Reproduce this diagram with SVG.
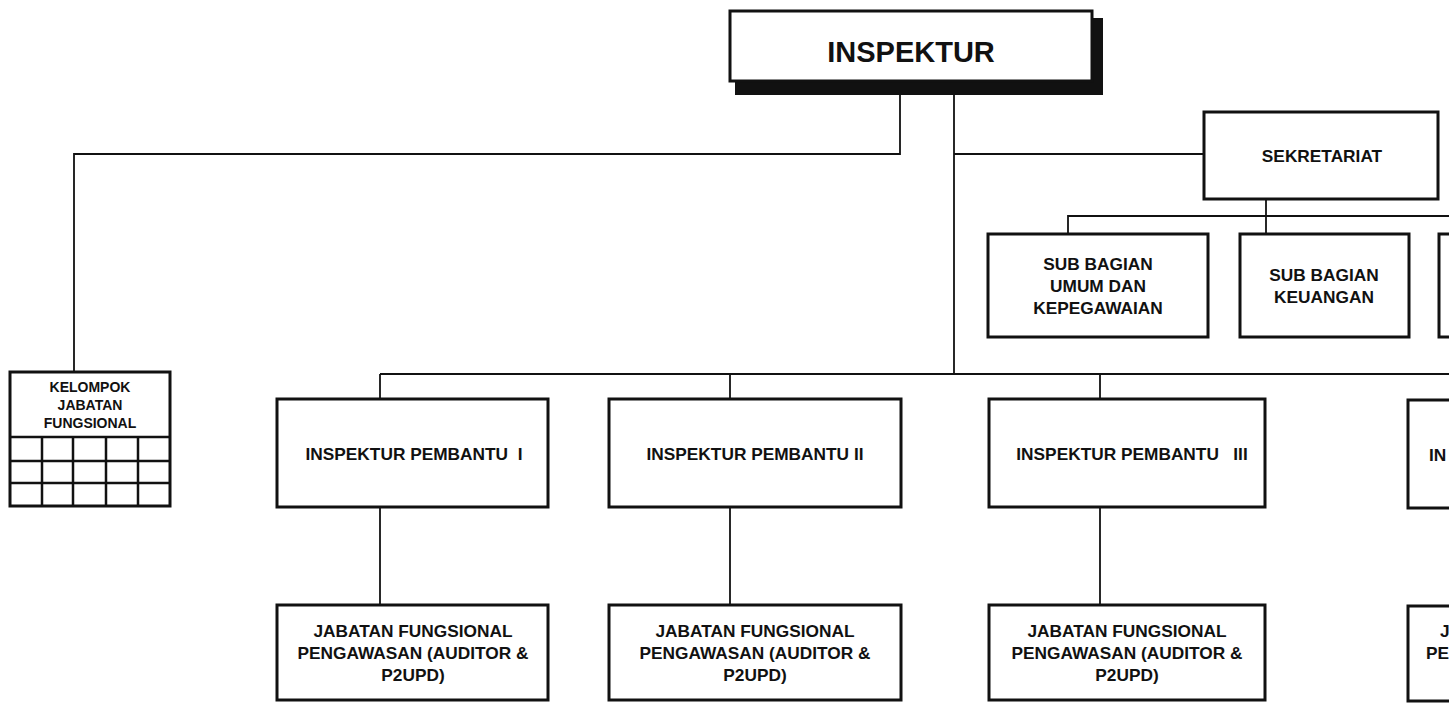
<svg xmlns="http://www.w3.org/2000/svg" width="1449" height="704" viewBox="0 0 1449 704">
<style>
.box{fill:#fff;stroke:#111;stroke-width:3}
.ln{fill:none;stroke:#111;stroke-width:1.8}
.t{font-family:"Liberation Sans",Arial,sans-serif;font-weight:bold;font-size:17.3px;fill:#111;text-anchor:middle}
.ts{font-family:"Liberation Sans",Arial,sans-serif;font-weight:bold;font-size:14px;fill:#111;text-anchor:middle}
.tl{font-family:"Liberation Sans",Arial,sans-serif;font-weight:bold;font-size:17.3px;fill:#111;text-anchor:start}
.grid{fill:none;stroke:#111;stroke-width:2.5}
</style>
<rect width="1449" height="704" fill="#fff"/>
<g id="connectors">
<polyline class="ln" points="900,81 900,154 74,154 74,372"/>
<line class="ln" x1="954" y1="81" x2="954" y2="374"/>
<line class="ln" x1="954" y1="154" x2="1204" y2="154"/>
<line class="ln" x1="1266" y1="199" x2="1266" y2="234"/>
<polyline class="ln" points="1068,234 1068,216 1449,216"/>
<line class="ln" x1="380" y1="374" x2="1449" y2="374"/>
<line class="ln" x1="380" y1="374" x2="380" y2="399"/>
<line class="ln" x1="730" y1="374" x2="730" y2="399"/>
<line class="ln" x1="1100" y1="374" x2="1100" y2="399"/>
<line class="ln" x1="380" y1="507" x2="380" y2="605"/>
<line class="ln" x1="730" y1="507" x2="730" y2="605"/>
<line class="ln" x1="1100" y1="507" x2="1100" y2="605"/>
</g>
<g id="inspektur">
<rect x="735" y="18" width="368" height="77" fill="#111"/>
<rect class="box" x="730" y="11" width="362" height="70"/>
<text class="t" x="911" y="62" style="font-size:29px">INSPEKTUR</text>
</g>
<g id="sekretariat">
<rect class="box" x="1204" y="112" width="234" height="87"/>
<text class="t" x="1322" y="162">SEKRETARIAT</text>
</g>
<g id="subbag-umum">
<rect class="box" x="988" y="234" width="220" height="103"/>
<text class="t" x="1098" y="270">SUB BAGIAN</text>
<text class="t" x="1098" y="292">UMUM DAN</text>
<text class="t" x="1098" y="314">KEPEGAWAIAN</text>
</g>
<g id="subbag-keuangan">
<rect class="box" x="1240" y="234" width="169" height="103"/>
<text class="t" x="1324" y="281">SUB BAGIAN</text>
<text class="t" x="1324" y="303">KEUANGAN</text>
</g>
<g id="subbag-3">
<rect class="box" x="1439" y="234" width="40" height="103"/>
</g>
<g id="kelompok">
<rect class="box" x="10" y="372" width="160" height="134"/>
<text class="ts" x="90" y="392">KELOMPOK</text>
<text class="ts" x="90" y="410">JABATAN</text>
<text class="ts" x="90" y="428">FUNGSIONAL</text>
<path class="grid" d="M10,437H170M10,461H170M10,483H170M42,437V506M73,437V506M106,437V506M138,437V506"/>
</g>
<g id="pembantu1">
<rect class="box" x="277" y="399" width="271" height="108"/>
<text class="t" x="414" y="460" xml:space="preserve">INSPEKTUR PEMBANTU  I</text>
</g>
<g id="pembantu2">
<rect class="box" x="609" y="399" width="292" height="108"/>
<text class="t" x="755" y="460">INSPEKTUR PEMBANTU II</text>
</g>
<g id="pembantu3">
<rect class="box" x="989" y="399" width="276" height="108"/>
<text class="t" x="1132" y="460" xml:space="preserve">INSPEKTUR PEMBANTU   III</text>
</g>
<g id="pembantu4">
<rect class="box" x="1408" y="400" width="60" height="108"/>
<text class="tl" x="1429" y="461">IN</text>
</g>
<g id="jf1">
<rect class="box" x="277" y="605" width="271" height="95"/>
<text class="t" x="413" y="637">JABATAN FUNGSIONAL</text>
<text class="t" x="413" y="659">PENGAWASAN (AUDITOR &amp;</text>
<text class="t" x="413" y="681">P2UPD)</text>
</g>
<g id="jf2">
<rect class="box" x="609" y="605" width="292" height="95"/>
<text class="t" x="755" y="637">JABATAN FUNGSIONAL</text>
<text class="t" x="755" y="659">PENGAWASAN (AUDITOR &amp;</text>
<text class="t" x="755" y="681">P2UPD)</text>
</g>
<g id="jf3">
<rect class="box" x="989" y="605" width="276" height="95"/>
<text class="t" x="1127" y="637">JABATAN FUNGSIONAL</text>
<text class="t" x="1127" y="659">PENGAWASAN (AUDITOR &amp;</text>
<text class="t" x="1127" y="681">P2UPD)</text>
</g>
<g id="jf4">
<rect class="box" x="1408" y="606" width="60" height="95"/>
<text class="tl" x="1440" y="637">J</text>
<text class="tl" x="1426" y="659">PE</text>
</g>
</svg>
